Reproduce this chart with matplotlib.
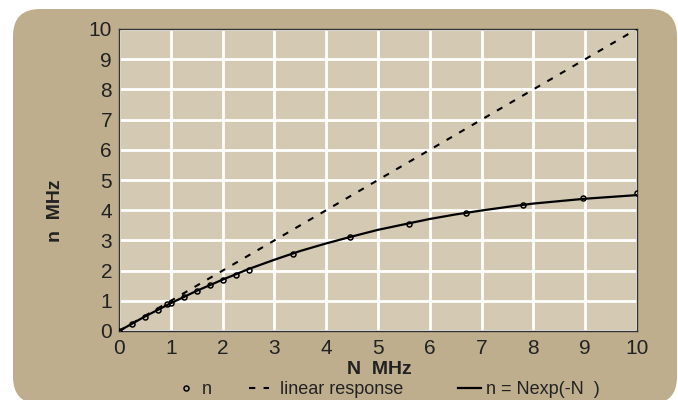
import numpy as np
import matplotlib.pyplot as plt
from matplotlib.patches import FancyBboxPatch
from matplotlib.lines import Line2D

# measured points (N, n) in MHz
N_pts = [0, 0.25, 0.5, 0.75, 0.92, 1.0, 1.25, 1.5, 1.75, 2.0, 2.25, 2.5,
         3.35, 4.45, 5.6, 6.7, 7.8, 8.95, 10]
n_pts = [0, 0.22, 0.45, 0.68, 0.88, 0.92, 1.12, 1.31, 1.51, 1.68, 1.87, 2.03,
         2.55, 3.1, 3.55, 3.9, 4.17, 4.4, 4.57]

# curve
N_fit = [0, 0.5, 1, 1.5, 2, 2.5, 3, 3.5, 4, 4.5, 5, 5.5, 6, 6.5, 7, 7.5,
         8, 8.5, 9, 9.5, 10]
n_fit = [0, 0.48, 0.92, 1.33, 1.70, 2.05, 2.36, 2.65, 2.90, 3.13, 3.35,
         3.53, 3.71, 3.86, 3.99, 4.11, 4.22, 4.30, 4.38, 4.44, 4.50]

N_lin = [0, 10]
n_lin = [0, 10]

ticks = list(range(0, 11))

plt.rcParams['font.family'] = ['Liberation Sans', 'DejaVu Sans']

W, H = 678, 400
fig = plt.figure(figsize=(W / 100, H / 100), dpi=100)
fig.patch.set_facecolor('white')

# rounded tan panel behind everything
panel = FancyBboxPatch((13 / W, -0.01), (677 - 13) / W, 1.01 - 9 / H,
                       boxstyle='round,pad=0,rounding_size=0.04',
                       transform=fig.transFigure, facecolor='#beae8e',
                       edgecolor='none', mutation_aspect=W / H, zorder=0)
fig.patches.append(panel)

ax = fig.add_axes([119 / W, 1 - 331 / H, (637 - 119) / W, (331 - 29) / H])
ax.set_zorder(2)
ax.set_facecolor('#d4c9b2')

pts, = ax.plot(N_pts, n_pts, 'o', ms=3.6, mfc='none', mec='black', mew=1.1,
               zorder=4)
lin, = ax.plot(N_lin, n_lin, '--', color='black', lw=1.5, dashes=(3, 4),
               zorder=3)
fit, = ax.plot(N_fit, n_fit, '-', color='black', lw=1.6, zorder=3)

ax.set_xlim(0, 10)
ax.set_ylim(0, 10)
ax.set_xticks(ticks)
ax.set_yticks(ticks)
ax.tick_params(length=0, labelsize=15, colors='#222222')
ax.tick_params(axis='x', pad=6)
ax.tick_params(axis='y', pad=5)
ax.grid(True, color='white', lw=2)
ax.set_axisbelow(True)
for s in ax.spines.values():
    s.set_color('#333333')
    s.set_linewidth(1)

fig.text(379 / W, 1 - 370 / H, 'N  MHz', ha='center', va='center',
         fontsize=14, fontweight='bold', color='#222222', zorder=3)
fig.text(55 / W, 1 - 211 / H, 'n  MHz', ha='center', va='center',
         rotation=90, fontsize=14, fontweight='bold', color='#222222', zorder=3)

# legend entries laid out one by one like the original
entries = [(pts, 'n', 177, 1.05, 0.33),
           (lin, 'linear response', 249, 1.1, 0.6),
           (fit, 'n = Nexp(-N  )', 458, 1.27, 0.28)]
for handle, label, x0, hl, pad in entries:
    leg = fig.legend([handle], [label], loc='center left',
                     bbox_to_anchor=(x0 / W, 1 - 390 / H), frameon=False,
                     fontsize=13, handlelength=hl, handletextpad=pad,
                     borderpad=0, borderaxespad=0)
    leg.set_zorder(3)
    for t in leg.get_texts():
        t.set_color('#222222')

fig.savefig('out.png', dpi=100)
